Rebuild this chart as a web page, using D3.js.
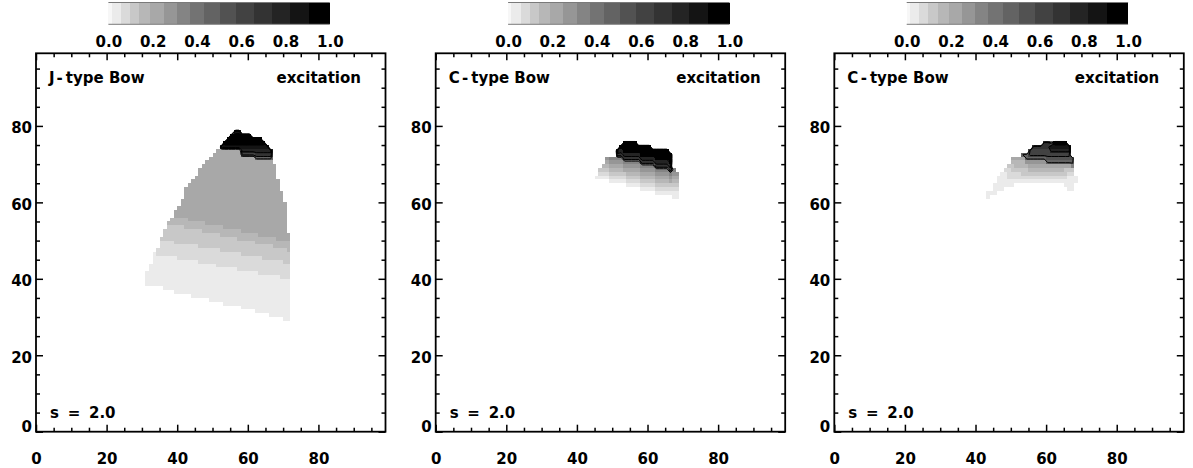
<!DOCTYPE html>
<html>
<head>
<meta charset="utf-8">
<script src="https://cdn.jsdelivr.net/npm/d3@7"></script>
<style>
  html, body { margin: 0; padding: 0; background: #fff; }
  svg { display: block; }
  text { font-family: "DejaVu Sans", sans-serif; font-weight: bold; font-size: 15px; fill: #000; }
  .tick line { stroke-width: 1.5; }
</style>
</head>
<body>
<svg id="chart" width="1193" height="468"></svg>
<script>
// ---------------- data ----------------
const panelTitles = ["J-type Bow", "C-type Bow", "C-type Bow"];
const panelQuantity = "excitation";
const panelParam = "s = 2.0";
const axisDomain = [0, 99];
const axisTicks = [0, 20, 40, 60, 80];
const minorTicks = [5, 10, 15, 25, 30, 35, 45, 50, 55, 65, 70, 75, 85, 90, 95];

// grey level of each contour band, 0 (lowest) .. 15 (highest)
const levelColors = ["#f7f7f7", "#ebebeb", "#dadada", "#c8c8c8", "#b7b7b7", "#a8a8a8",
  "#969696", "#848484", "#737373", "#636363", "#525252", "#424242",
  "#333333", "#242424", "#141414", "#000000"];
// band edges along the colour bar (bar spans 0..1)
const barEdges = [0, 0.015, 0.057, 0.098, 0.140, 0.190, 0.249, 0.310, 0.369,
  0.434, 0.505, 0.578, 0.659, 0.739, 0.819, 0.905, 1.0];
const barTicks = [0, 0.2, 0.4, 0.6, 0.8, 1.0];
// contour lines drawn between these band levels
const contourLevels = [8.5, 10.5, 12.5, 14.5];

// J-type bow: one entry per grid row -> [y, first x, "level x count ..."]
const jBowRows = [
  [29, 70, "1x2"], [30, 66, "1x6"], [31, 62, "1x10"], [32, 58, "1x14"],
  [33, 53, "1x19"], [34, 49, "1x23"], [35, 44, "1x28"], [36, 39, "1x33"],
  [37, 36, "1x36"], [38, 31, "1x41"], [39, 31, "1x41"],
  [40, 31, "1x38 2x3"], [41, 31, "1x32 2x9"], [42, 32, "1x25 2x15"],
  [43, 32, "1x19 2x21"], [44, 33, "1x13 2x24 3x2"], [45, 33, "1x7 2x24 3x8"],
  [46, 33, "1x1 2x24 3x14"], [47, 34, "2x18 3x19 4x1"], [48, 35, "2x11 3x21 4x5"],
  [49, 35, "2x4 3x23 4x10"], [50, 35, "3x22 4x11 5x4"], [51, 36, "3x16 4x11 5x9"],
  [52, 36, "3x11 4x11 5x13"], [53, 37, "3x5 4x11 5x18"], [54, 37, "4x11 5x23"],
  [55, 38, "4x5 5x28"], [56, 39, "5x32"], [57, 39, "5x32"], [58, 40, "5x31"],
  [59, 41, "5x30"], [60, 41, "5x29"], [61, 42, "5x28"], [62, 42, "5x28"],
  [63, 42, "5x27"], [64, 43, "5x26"], [65, 44, "5x25"], [66, 45, "5x23"],
  [67, 46, "5x22"], [68, 46, "5x22"], [69, 47, "5x21"], [70, 48, "5x19"],
  [71, 49, "5x13 9x5"], [72, 50, "5x8 11x4 12x5"], [73, 51, "5x7 13x9"],
  [74, 52, "13x1 14x13"], [75, 53, "15x12"], [76, 54, "15x10"],
  [77, 55, "15x6"], [78, 56, "14x2"]
];

// C-type bow: one entry per grid column -> [x, first y, "level x count ..."]
const cBowCols = [
  [45, 66, "1"], [46, 66, "1 2 3"], [47, 66, "1 2 3 4"], [48, 66, "1 2 3 4 5 6"],
  [49, 65, "1 2 3 4 5 6 7"], [50, 65, "1 2 3 4 5 6 7"],
  [51, 65, "1 2 3 4 5 6 7 12 14"], [52, 65, "1 2 3 4 5 6 7 12 13 15"],
  [53, 65, "1 2 3 5 6 7 12 13 15x3"],
  [54, 64, "1 2 3 4 5 6 7 12 13 15x3"], [55, 64, "1 2 3 4 5 6 7 12 13 15x3"],
  [56, 64, "1 2 3 4 5 6 7 12 13 15x3"], [57, 64, "1 2 3 4 5 6 7 12 13 15x2"],
  [58, 63, "1 2 3 4 5 6 7 12 13 15x3"], [59, 63, "1 2 3 4 5 6 7 12 13 15x3"],
  [60, 63, "1 2 3 4 5 6 7 12 13 15x3"], [61, 63, "1 2 3 4 5 6 7 12 13 15x2"],
  [62, 62, "1 2 3 4 5 6 7 12 13 15x3"], [63, 62, "1 2 3 4 5 6 7 12 13 15x3"],
  [64, 62, "1 2 3 4 5 6 7 12 13 15x3"], [65, 62, "1 2 3 4 5 6 7 12 13 15x3"],
  [66, 62, "1 2 3 5 6 7 12 13 15x3"],
  [67, 61, "1x2 2 3 4 5 6 7"], [68, 61, "1x2 2 3 4 5 6"]
];

// C-type bow, second case: one entry per grid row -> [y, first x, "level x count ..."]
const cBow2Rows = [
  [61, 43, "1"], [62, 43, "1x3"], [63, 45, "1x3"], [63, 66, "1x2"],
  [64, 45, "1x6"], [64, 65, "1x3"], [65, 46, "1x23"],
  [66, 46, "1x3 2x17 1x3"], [67, 47, "1x2 2x4 3x13 2x2"],
  [68, 48, "2x2 3x5 4x10 3x3"], [69, 49, "3x2 4x4 5x12 7x1"],
  [70, 50, "4x4 6x6 9x8"], [71, 50, "5x4 9x6 10x8"],
  [72, 53, "9x2 11x12"], [73, 55, "11x6 13x6"], [74, 56, "12x5 14x6"],
  [75, 59, "12x2 9x1 15x4"]
];

const panels = [
  { title: panelTitles[0], cells: jBowRows, orient: "row" },
  { title: panelTitles[1], cells: cBowCols, orient: "col" },
  { title: panelTitles[2], cells: cBow2Rows, orient: "row" }
];

// ---------------- layout ----------------
const panelLeft = [36, 435.7, 834.3];
const panelW = 349.5;
const plotTop = 53.3, plotBottom = 431.7;
const barOffset = [72.4, 293.8];   // colour bar ends, relative to panel left
const barTop = 3, barBottom = 24;
const gridN = 99;

const svg = d3.select("#chart");

function expandRuns(s) {
  const out = [];
  s.trim().split(/\s+/).forEach(tok => {
    const [lv, n] = tok.split("x").map(Number);
    for (let k = 0; k < (n || 1); k++) out.push(lv);
  });
  return out;
}

function toCells(entries, orient) {
  const cells = [];
  entries.forEach(([a, b, runs]) => {
    expandRuns(runs).forEach((lv, k) => {
      if (orient === "row") cells.push({ x: b + k, y: a, level: lv });
      else cells.push({ x: a, y: b + k, level: lv });
    });
  });
  return cells;
}

panels.forEach((p, i) => {
  const L = panelLeft[i];
  const xs = d3.scaleLinear(axisDomain, [L, L + panelW]);
  const ys = d3.scaleLinear(axisDomain, [plotBottom, plotTop]);
  const g = svg.append("g");

  // ---- colour bar ----
  const bx = d3.scaleLinear([0, 1], [L + barOffset[0], L + barOffset[1]]);
  const bar = g.append("g");
  bar.selectAll("rect").data(levelColors).join("rect")
    .attr("x", (d, k) => bx(barEdges[k]))
    .attr("width", (d, k) => bx(barEdges[k + 1]) - bx(barEdges[k]))
    .attr("y", barTop).attr("height", barBottom - barTop)
    .attr("fill", d => d)
    .attr("shape-rendering", "crispEdges");
  [barTop - 0.5, barBottom + 0.3].forEach(yy => {
    bar.append("line").attr("x1", bx(0)).attr("x2", bx(1))
      .attr("y1", yy).attr("y2", yy)
      .attr("stroke", "#7a7a7a").attr("stroke-width", 1);
  });
  const barAxis = g.append("g").attr("transform", `translate(0,${barBottom})`)
    .call(d3.axisBottom(bx).tickValues(barTicks).tickFormat(d3.format(".1f"))
      .tickSize(0).tickPadding(12.6));
  barAxis.select(".domain").remove();

  // ---- filled cells ----
  const cells = toCells(p.cells, p.orient);
  g.append("g").selectAll("rect").data(cells).join("rect")
    .attr("x", d => xs(d.x))
    .attr("width", d => xs(d.x + 1) - xs(d.x))
    .attr("y", d => ys(d.y + 1))
    .attr("height", d => ys(d.y) - ys(d.y + 1))
    .attr("fill", d => levelColors[d.level])
    .attr("shape-rendering", "crispEdges");

  // ---- contour lines on the same grid ----
  const values = new Array(gridN * gridN).fill(0);
  cells.forEach(c => { values[c.y * gridN + c.x] = c.level; });
  const bands = d3.contours().size([gridN, gridN]).thresholds(contourLevels)(values);
  const proj = d3.geoTransform({
    point(px, py) { this.stream.point(xs(px), ys(py)); }
  });
  g.append("g").selectAll("path").data(bands).join("path")
    .attr("d", d3.geoPath(proj))
    .attr("fill", "none").attr("stroke", "#000").attr("stroke-width", 1)
    .attr("stroke-linejoin", "round");

  // ---- axes (ticks inward on all four sides) ----
  g.append("g").attr("transform", `translate(0,${plotBottom})`)
    .call(d3.axisBottom(xs).tickValues(axisTicks).tickSize(-7).tickSizeOuter(0).tickPadding(22));
  g.append("g").attr("transform", `translate(0,${plotBottom})`)
    .call(d3.axisBottom(xs).tickValues(minorTicks).tickSize(-4).tickSizeOuter(0).tickFormat(""));
  g.append("g").attr("transform", `translate(0,${plotTop})`)
    .call(d3.axisTop(xs).tickValues(axisTicks).tickSize(-7).tickSizeOuter(0).tickFormat(""));
  g.append("g").attr("transform", `translate(0,${plotTop})`)
    .call(d3.axisTop(xs).tickValues(minorTicks).tickSize(-4).tickSizeOuter(0).tickFormat(""));
  const ay = g.append("g").attr("transform", `translate(${L},0)`)
    .call(d3.axisLeft(ys).tickValues(axisTicks).tickSize(-7).tickSizeOuter(0).tickPadding(4));
  g.append("g").attr("transform", `translate(${L},0)`)
    .call(d3.axisLeft(ys).tickValues(minorTicks).tickSize(-4).tickSizeOuter(0).tickFormat(""));
  g.append("g").attr("transform", `translate(${L + panelW},0)`)
    .call(d3.axisRight(ys).tickValues(axisTicks).tickSize(-7).tickSizeOuter(0).tickFormat(""));
  g.append("g").attr("transform", `translate(${L + panelW},0)`)
    .call(d3.axisRight(ys).tickValues(minorTicks).tickSize(-4).tickSizeOuter(0).tickFormat(""));
  g.selectAll(".domain").remove();
  ay.selectAll("text").attr("dy", d => d === 0 ? "0em" : "0.47em");

  // frame
  g.append("rect")
    .attr("x", L).attr("y", plotTop)
    .attr("width", panelW).attr("height", plotBottom - plotTop)
    .attr("fill", "none").attr("stroke", "#000").attr("stroke-width", 1.8);

  // ---- labels inside the frame ----
  const t = g.append("text").attr("x", L + 13).attr("y", 83.3);
  const parts = p.title.split("-");
  t.append("tspan").text(parts[0]);
  t.append("tspan").attr("dx", 2).text("-");
  t.append("tspan").attr("dx", 3).text(parts[1]);
  g.append("text").attr("x", L + 325).attr("y", 83.3)
    .attr("text-anchor", "end").text(panelQuantity);
  g.append("text").attr("x", L + 14).attr("y", 417.5)
    .attr("word-spacing", "3.5px").text(panelParam);
});
</script>
</body>
</html>
